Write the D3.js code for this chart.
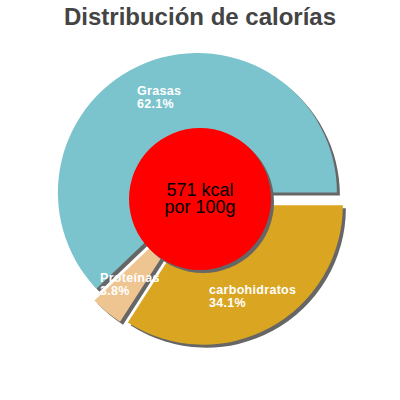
<!DOCTYPE html>
<html>
<head>
<meta charset="utf-8">
<script src="https://cdn.jsdelivr.net/npm/d3@7"></script>
<style>
  body { margin: 0; background: #fff; }
  svg { display: block; }
</style>
</head>
<body>
<div id="chart"></div>
<script>
// data
var title = "Distribución de calorías";
var categories = ["carbohidratos", "Proteínas", "Grasas"];
var percents = [34.1, 3.8, 62.1];
var colors = ["#DAA520", "#EEC591", "#7BC4CD"];
var centerLines = ["571 kcal", "por 100g"];

var width = 400, height = 400;
var cx = 200, cy = 199,
	radius = 139.5,
	explode = 7,
	labelRadius = 110,
	shadow = 3,
	innerR = 71;

var svg = d3.select("#chart").append("svg")
			.attr("width", width)
			.attr("height", height);

svg.append("text")
	.attr("x", width / 2)
	.attr("y", 25)
	.attr("text-anchor", "middle")
	.style("font-family", "Liberation Sans, Arial, sans-serif")
	.style("font-weight", "bold")
	.style("font-size", "24px")
	.style("fill", "#444")
	.text(title);

var data = categories.map(function(c, i) { return {name: c, value: percents[i], color: colors[i]}; });

// slices start at 3 o'clock and go clockwise
var pie = d3.pie()
	.sort(null)
	.value(function(d) { return d.value; })
	.startAngle(Math.PI / 2)
	.endAngle(Math.PI / 2 + 2 * Math.PI);

var arcs = pie(data);

var arc = d3.arc().innerRadius(0).outerRadius(radius);

//offset of each slice along its bisector
function shift(d, r) {
	var a = (d.startAngle + d.endAngle) / 2;
	return [Math.sin(a) * r, -Math.cos(a) * r];
}

var g = svg.append("g").attr("transform", "translate(" + cx + "," + cy + ")");

// shadows first
g.selectAll(".shadow")
	.data(arcs)
	.enter()
	.append("path")
	.attr("class", "shadow")
	.attr("fill", "#666")
	.attr("d", arc)
	.attr("transform", function(d) { var p = shift(d, explode); return "translate(" + (p[0] + shadow) + "," + (p[1] + shadow) + ")"; });

g.selectAll(".slice")
	.data(arcs)
	.enter()
	.append("path")
	.attr("class", "slice")
	.attr("fill", function(d) { return d.data.color; })
	.attr("d", arc)
	.attr("transform", function(d) { var p = shift(d, explode); return "translate(" + p[0] + "," + p[1] + ")"; });

// centre disc
g.append("circle")
	.attr("cx", shadow).attr("cy", shadow)
	.attr("r", innerR)
	.attr("fill", "#666");

g.append("circle")
	.attr("r", innerR)
	.attr("fill", "#FF0000");

g.selectAll(".center-text")
	.data(centerLines)
	.enter()
	.append("text")
	.attr("class", "center-text")
	.attr("text-anchor", "middle")
	.style("font-family", "Liberation Sans, Arial, sans-serif")
	.style("font-size", "18px")
	.style("fill", "#000")
	.attr("x", 0)
	.attr("y", function(d, i) { return -3 + i * 17; })
	.text(function(d) { return d; });

// labels: two left aligned lines, block centred on the label point
var labels = g.selectAll(".label")
	.data(arcs)
	.enter()
	.append("text")
	.attr("class", "label")
	.style("font-family", "Liberation Sans, Arial, sans-serif")
	.style("font-size", "12.5px")
	.style("font-weight", "bold")
	.style("letter-spacing", "0.3px")
	.style("fill", "#fff");

labels.each(function(d) {
	var t = d3.select(this);
	var p = shift(d, labelRadius);
	var l1 = t.append("tspan").text(d.data.name);
	var l2 = t.append("tspan").text(d.data.value.toFixed(1) + "%");
	var w = Math.max(l1.node().getComputedTextLength(), l2.node().getComputedTextLength());
	var x0 = p[0] - w / 2;
	l1.attr("x", x0).attr("y", p[1] - 2);
	l2.attr("x", x0).attr("y", p[1] + 11);
});
</script>
</body>
</html>
